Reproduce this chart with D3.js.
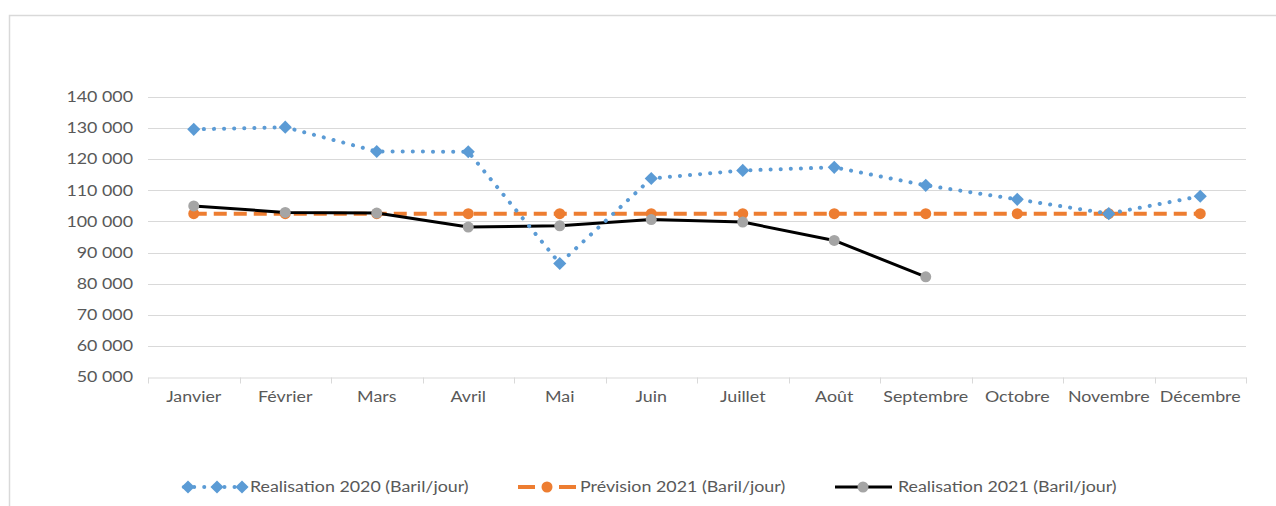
<!DOCTYPE html>
<html><head><meta charset="utf-8">
<script src="https://cdn.jsdelivr.net/npm/d3@7"></script>
<style>body{margin:0;background:#fff}svg{display:block}text{font-family:Lato,"Open Sans",sans-serif;fill:#595959}</style>
</head><body><svg id="c" width="1276" height="506"></svg>
<script>
const months = ["Janvier","Février","Mars","Avril","Mai","Juin","Juillet","Août","Septembre","Octobre","Novembre","Décembre"];
const real2020 = [129600,130300,122500,122400,86500,113800,116400,117400,111600,107100,102500,108100];
const prev2021 = [102500,102500,102500,102500,102500,102500,102500,102500,102500,102500,102500,102500];
const real2021 = [105000,102900,102700,98200,98600,100600,99800,93900,82200];
const yTicks = [50000,60000,70000,80000,90000,100000,110000,120000,130000,140000];
const seriesNames = ["Realisation 2020 (Baril/jour)","Prévision 2021 (Baril/jour)","Realisation 2021 (Baril/jour)"];

const svg = d3.select("#c");
const W=1276,H=506;
const m={l:148,r:1246,t:97,b:377};
const SX=1.19, FS=15;
svg.append("path").attr("d",`M9.5,${H} V15.5 H${W}`).attr("fill","none").attr("stroke","#d9d9d9").attr("stroke-width",1.5);

const x = d3.scaleBand().domain(months).range([m.l,m.r]);
const y = d3.scaleLinear().domain([50000,140000]).range([m.b,m.t]);
const fmt = v => d3.format(",")(v).replace(/,/g," ");

svg.append("g").selectAll("line").data(yTicks.filter(v=>v>50000)).join("line")
  .attr("x1",m.l).attr("x2",m.r).attr("y1",d=>Math.round(y(d))+0.5).attr("y2",d=>Math.round(y(d))+0.5)
  .attr("stroke","#d9d9d9").attr("stroke-width",1);
svg.append("g").selectAll("text").data(yTicks).join("text")
  .attr("transform",d=>`translate(133,${y(d)}) scale(${SX},1)`).attr("dy","0.35em").attr("text-anchor","end")
  .attr("font-size",FS).text(fmt);
const xa = svg.append("g").attr("transform",`translate(0,${m.b+0.5})`)
  .call(d3.axisBottom(x).tickSize(0).tickPadding(14));
xa.select(".domain").attr("stroke","#d9d9d9").attr("stroke-width",1.2);
xa.selectAll("text").attr("font-size",FS).attr("fill","#595959").attr("transform",`scale(${SX},1)`)
  .style("font-family","Lato,'Open Sans',sans-serif");
const bounds = months.map(d=>x(d)).concat([m.r]);
xa.selectAll("line.b").data(bounds).join("line").attr("class","b")
  .attr("x1",d=>Math.round(d)+0.5).attr("x2",d=>Math.round(d)+0.5).attr("y1",0).attr("y2",6)
  .attr("stroke","#d9d9d9");

const cx = d => x(d)+x.bandwidth()/2;
const line = d3.line().x((d,i)=>cx(months[i])).y(d=>y(d));
const blue="#5b9bd5", orange="#ed7d31", black="#000", gray="#a5a5a5";

svg.append("path").datum(prev2021).attr("d",line).attr("fill","none").attr("stroke",orange)
  .attr("stroke-width",4).attr("stroke-dasharray","13,7");
svg.append("g").selectAll("circle").data(prev2021).join("circle")
  .attr("cx",(d,i)=>cx(months[i])).attr("cy",d=>y(d)).attr("r",5.5).attr("fill",orange);
svg.append("path").datum(real2021).attr("d",line).attr("fill","none").attr("stroke",black)
  .attr("stroke-width",3).attr("stroke-linejoin","round");
svg.append("g").selectAll("circle").data(real2021).join("circle")
  .attr("cx",(d,i)=>cx(months[i])).attr("cy",d=>y(d)).attr("r",5.5).attr("fill",gray);
svg.append("path").datum(real2020).attr("d",line).attr("fill","none").attr("stroke",blue)
  .attr("stroke-width",4).attr("stroke-linecap","round").attr("stroke-dasharray","0.1,10");
const diamond = d3.symbol().type(d3.symbolDiamond2).size(110);
svg.append("g").selectAll("path").data(real2020).join("path")
  .attr("transform",(d,i)=>`translate(${cx(months[i])},${y(d)})`).attr("d",diamond).attr("fill",blue);

const ly=487;
const lg=svg.append("g");
const ltext=(px,t)=>lg.append("text").attr("transform",`translate(${px},${ly}) scale(${SX},1)`)
  .attr("dy","0.35em").attr("font-size",FS).text(t);
lg.append("line").attr("x1",184).attr("x2",246).attr("y1",ly).attr("y2",ly).attr("stroke",blue)
  .attr("stroke-width",4).attr("stroke-linecap","round").attr("stroke-dasharray","0.1,10");
[188,217,242].forEach(px=>lg.append("path").attr("transform",`translate(${px},${ly})`).attr("d",diamond).attr("fill",blue));
ltext(250,seriesNames[0]);
lg.append("line").attr("x1",518).attr("x2",576).attr("y1",ly).attr("y2",ly).attr("stroke",orange)
  .attr("stroke-width",4).attr("stroke-dasharray","17,24");
lg.append("circle").attr("cx",547).attr("cy",ly).attr("r",5.5).attr("fill",orange);
ltext(580,seriesNames[1]);
lg.append("line").attr("x1",835).attr("x2",892).attr("y1",ly).attr("y2",ly).attr("stroke",black).attr("stroke-width",3);
lg.append("circle").attr("cx",863).attr("cy",ly).attr("r",5.5).attr("fill",gray);
ltext(898,seriesNames[2]);
</script></body></html>
